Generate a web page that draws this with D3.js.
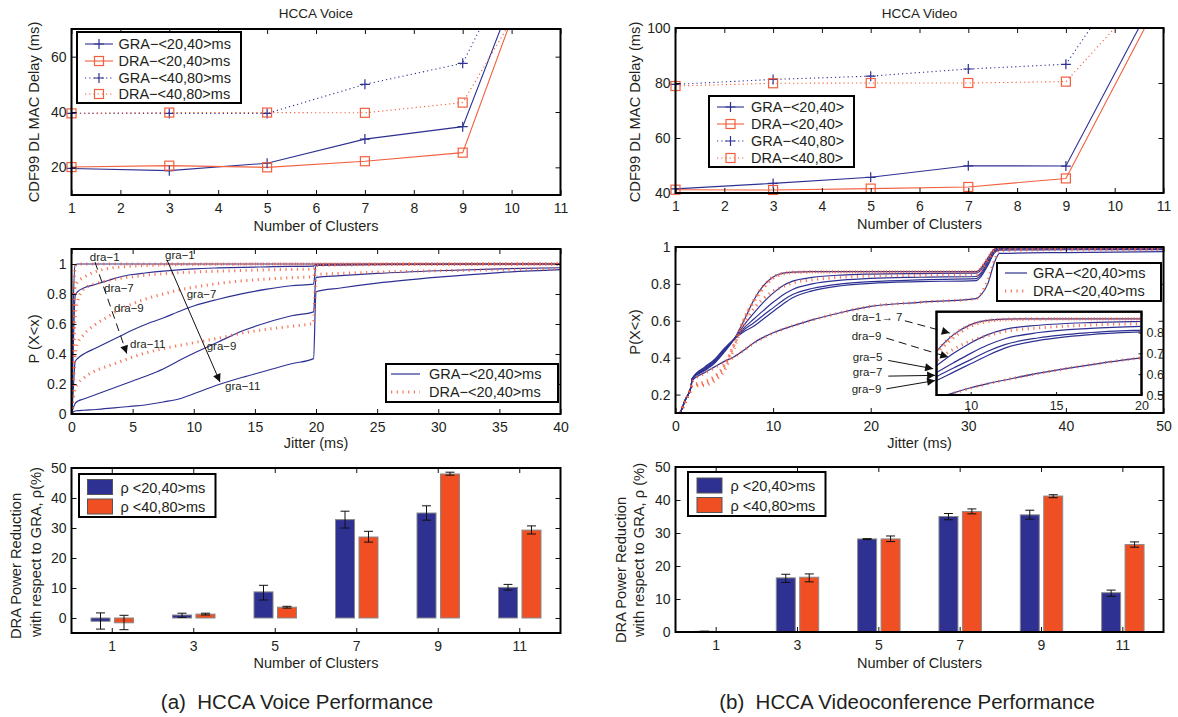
<!DOCTYPE html>
<html>
<head>
<meta charset="utf-8">
<script src="https://cdn.jsdelivr.net/npm/d3@7"></script>
<style>
  body { margin: 0; background: #fff; }
  svg { font-family: "Liberation Sans", Arial, Helvetica, sans-serif; }
</style>
</head>
<body>
<svg id="fig" width="1178" height="717"></svg>
<script>
// ---------- data ----------
const clusters = [1, 3, 5, 7, 9, 11];

// CDF99 DL MAC delay (ms), HCCA voice
const voiceGra2040 = [19.6, 18.8, 21.5, 30.2, 34.7, 126];
const voiceDra2040 = [20.1, 20.6, 20.0, 22.2, 25.3, 122];
const voiceGra4080 = [39.5, 39.5, 39.5, 50.0, 57.6, 128];
const voiceDra4080 = [39.5, 39.8, 39.8, 39.7, 43.4, 103];

// CDF99 DL MAC delay (ms), HCCA video
const videoGra2040 = [41.5, 43.5, 45.7, 49.9, 49.8, 117];
const videoDra2040 = [41.2, 41.1, 41.6, 42.2, 45.3, 113];
const videoGra4080 = [79.5, 81.3, 82.5, 85.1, 86.8, 139];
const videoDra4080 = [78.9, 79.9, 80.0, 80.0, 80.5, 119.5];

// jitter CDF, voice
const voiceJitter = [0, 0.1, 0.3, 0.5, 1, 2, 3, 4, 5, 6, 7.5, 9, 10, 12, 14, 16, 18, 19.8, 20, 22, 25, 30, 35, 40];
const voiceCdfGra1 = [0, 0.55, 0.995, 1, 1, 1, 1, 1, 1, 1, 1, 1, 1, 1, 1, 1, 1, 1, 1, 1, 1, 1, 1, 1];
const voiceCdfGra5 = [0, 0.3, 0.79, 0.815, 0.84, 0.865, 0.89, 0.915, 0.93, 0.94, 0.953, 0.963, 0.968, 0.974, 0.978, 0.981, 0.984, 0.986, 0.997, 0.998, 0.999, 1, 1, 1];
const voiceCdfGra7 = [0, 0.1, 0.35, 0.37, 0.4, 0.44, 0.48, 0.52, 0.56, 0.595, 0.64, 0.69, 0.72, 0.765, 0.803, 0.832, 0.855, 0.866, 0.99, 0.993, 0.996, 0.998, 1, 1];
const voiceCdfGra9 = [0, 0.03, 0.07, 0.085, 0.1, 0.13, 0.16, 0.19, 0.22, 0.25, 0.3, 0.365, 0.405, 0.48, 0.555, 0.61, 0.655, 0.681, 0.911, 0.922, 0.937, 0.955, 0.968, 0.975];
const voiceCdfGra11 = [0, 0.01, 0.02, 0.022, 0.025, 0.03, 0.037, 0.045, 0.052, 0.06, 0.08, 0.105, 0.135, 0.195, 0.245, 0.29, 0.335, 0.369, 0.815, 0.84, 0.872, 0.912, 0.943, 0.962];
const voiceCdfDra1 = [0, 0.5, 0.98, 1, 1, 1, 1, 1, 1, 1, 1, 1, 1, 1, 1, 1, 1, 1, 1, 1, 1, 1, 1, 1];
const voiceCdfDra5 = [0, 0.4, 0.85, 0.88, 0.91, 0.95, 0.97, 0.98, 0.986, 0.99, 0.994, 0.996, 0.997, 0.998, 0.999, 1, 1, 1, 1, 1, 1, 1, 1, 1];
const voiceCdfDra7 = [0, 0.2, 0.65, 0.75, 0.83, 0.87, 0.89, 0.905, 0.915, 0.925, 0.935, 0.943, 0.947, 0.952, 0.957, 0.961, 0.964, 0.966, 0.995, 0.997, 0.999, 1, 1, 1];
const voiceCdfDra9 = [0, 0.1, 0.4, 0.47, 0.53, 0.6, 0.65, 0.7, 0.735, 0.765, 0.8, 0.83, 0.845, 0.87, 0.888, 0.9, 0.909, 0.915, 0.99, 0.993, 0.996, 0.998, 1, 1];
const voiceCdfDra11 = [0, 0.08, 0.17, 0.2, 0.24, 0.29, 0.32, 0.35, 0.38, 0.405, 0.435, 0.46, 0.475, 0.505, 0.54, 0.565, 0.585, 0.605, 0.93, 0.937, 0.946, 0.955, 0.962, 0.968];

// jitter CDF, video
const videoJitter = [0.5, 1, 1.6, 1.7, 3, 4, 5, 6, 7, 8, 9, 10, 11, 12, 14, 17, 20, 25, 30.8, 31.3, 32, 32.7, 33.2, 40, 50];
const videoCdfGra1 = [0.1, 0.17, 0.245, 0.285, 0.33, 0.37, 0.43, 0.5, 0.6, 0.71, 0.79, 0.838, 0.858, 0.864, 0.866, 0.866, 0.866, 0.866, 0.866, 0.885, 0.94, 0.99, 1, 1, 1];
const videoCdfGra3 = [0.1, 0.17, 0.245, 0.285, 0.335, 0.375, 0.435, 0.5, 0.575, 0.64, 0.7, 0.75, 0.79, 0.815, 0.835, 0.848, 0.853, 0.856, 0.858, 0.875, 0.93, 0.985, 0.998, 1, 1];
const videoCdfGra5 = [0.1, 0.17, 0.245, 0.285, 0.34, 0.38, 0.44, 0.5, 0.56, 0.608, 0.655, 0.7, 0.74, 0.77, 0.8, 0.82, 0.83, 0.836, 0.84, 0.86, 0.92, 0.98, 0.993, 0.994, 0.995];
const videoCdfGra7 = [0.1, 0.17, 0.245, 0.285, 0.345, 0.385, 0.445, 0.5, 0.55, 0.588, 0.63, 0.67, 0.71, 0.742, 0.775, 0.8, 0.812, 0.822, 0.828, 0.85, 0.91, 0.975, 0.988, 0.99, 0.991];
const videoCdfGra9 = [0.1, 0.17, 0.245, 0.285, 0.35, 0.39, 0.45, 0.5, 0.54, 0.57, 0.61, 0.65, 0.69, 0.725, 0.762, 0.79, 0.803, 0.812, 0.818, 0.84, 0.9, 0.97, 0.983, 0.985, 0.986];
const videoCdfGra11 = [0.1, 0.17, 0.24, 0.275, 0.32, 0.35, 0.38, 0.405, 0.44, 0.48, 0.51, 0.535, 0.555, 0.572, 0.605, 0.645, 0.678, 0.7, 0.72, 0.74, 0.8, 0.92, 0.965, 0.97, 0.975];
const videoCdfDra1 = [0.1, 0.16, 0.235, 0.245, 0.25, 0.275, 0.33, 0.45, 0.6, 0.71, 0.79, 0.838, 0.858, 0.864, 0.866, 0.866, 0.866, 0.866, 0.866, 0.885, 0.94, 0.99, 1, 1, 1];
const videoCdfDra7 = [0.1, 0.16, 0.235, 0.25, 0.26, 0.29, 0.35, 0.47, 0.61, 0.7, 0.775, 0.83, 0.853, 0.861, 0.864, 0.865, 0.865, 0.866, 0.866, 0.885, 0.94, 0.99, 1, 0.998, 0.998];
const videoCdfDra9 = [0.1, 0.16, 0.235, 0.25, 0.27, 0.3, 0.36, 0.47, 0.58, 0.665, 0.72, 0.76, 0.785, 0.805, 0.822, 0.836, 0.842, 0.846, 0.848, 0.868, 0.925, 0.98, 0.99, 0.99, 0.99];
const videoCdfDra11 = [0.1, 0.165, 0.235, 0.27, 0.315, 0.345, 0.377, 0.403, 0.44, 0.478, 0.508, 0.533, 0.554, 0.572, 0.604, 0.645, 0.678, 0.7, 0.72, 0.745, 0.82, 0.93, 0.98, 0.985, 0.985];

// DRA power reduction w.r.t. GRA (%), with error bar limits
const voiceRho2040 = [-1.1, 1.0, 8.7, 32.8, 35.0, 10.2];
const voiceRho2040Lo = [-3.7, 0.2, 6.0, 30.0, 32.6, 9.3];
const voiceRho2040Hi = [1.7, 1.6, 10.9, 35.6, 37.4, 11.2];
const voiceRho4080 = [-1.6, 1.3, 3.6, 27.0, 48.0, 29.3];
const voiceRho4080Lo = [-3.9, 1.0, 3.3, 25.3, 47.6, 28.0];
const voiceRho4080Hi = [0.9, 1.6, 3.9, 28.9, 48.6, 30.7];
const videoRho2040 = [0.2, 16.4, 28.2, 35.0, 35.5, 11.9];
const videoRho2040Lo = [0.15, 15.0, 28.0, 34.0, 34.2, 10.8];
const videoRho2040Hi = [0.25, 17.5, 28.3, 35.9, 36.9, 12.7];
const videoRho4080 = [0.05, 16.6, 28.2, 36.5, 41.2, 26.5];
const videoRho4080Lo = [0.0, 15.2, 27.4, 35.8, 40.7, 25.7];
const videoRho4080Hi = [0.1, 17.6, 29.1, 37.3, 41.6, 27.3];

const delayTicksVoice = [20, 40, 60];
const delayTicksVideo = [40, 60, 80, 100];
const clusterTicks = [1, 2, 3, 4, 5, 6, 7, 8, 9, 10, 11];
const cdfTicksVoice = [0, 0.2, 0.4, 0.6, 0.8, 1];
const cdfTicksVideo = [0.2, 0.4, 0.6, 0.8, 1];
const jitterTicksVoice = [0, 5, 10, 15, 20, 25, 30, 35, 40];
const jitterTicksVideo = [0, 10, 20, 30, 40, 50];
const rhoTicks = [0, 10, 20, 30, 40, 50];
const insetXTicks = [10, 15, 20];
const insetYTicks = [0.5, 0.6, 0.7, 0.8];

// ---------- setup ----------
const svg = d3.select('#fig');
const BLUE = '#2e3192';
const RED = '#f2603f';
const BAR_RED = '#f04e23';
const TXT = '#231f20';
const fmt = d3.format('~g');
const defs = svg.append('defs');

defs.append('marker').attr('id', 'head').attr('viewBox', '0 0 10 10')
  .attr('refX', 10).attr('refY', 5).attr('markerWidth', 10).attr('markerHeight', 8)
  .attr('markerUnits', 'userSpaceOnUse').attr('orient', 'auto')
  .append('path').attr('d', 'M0,0L10,5L0,10z').attr('fill', '#111');

let clipCount = 0;
function clipFor(box) {
  const id = 'clip' + clipCount++;
  defs.append('clipPath').attr('id', id).append('rect')
    .attr('x', box[0]).attr('y', box[1]).attr('width', box[2] - box[0]).attr('height', box[3] - box[1]);
  return `url(#${id})`;
}

function styleAxis(sel, size) {
  sel.select('.domain').remove();
  sel.selectAll('.tick line').attr('stroke', '#111').attr('stroke-width', 1);
  sel.selectAll('.tick text').attr('fill', TXT).style('font-size', size + 'px');
}

function frame(g, box, x, y, xTicks, yTicks) {
  const [x0, y0, x1, y1] = box;
  const ax = (axis, tv) => (tv ? axis.tickValues(tv) : axis).tickSizeInner(-5).tickSizeOuter(0);
  const lab = (axis) => (x.bandwidth ? axis : axis.tickFormat(fmt));
  g.append('g').attr('transform', `translate(0,${y1})`)
    .call(lab(ax(d3.axisBottom(x), xTicks)).tickPadding(8)).call(styleAxis, 14);
  g.append('g').attr('transform', `translate(0,${y0})`)
    .call(ax(d3.axisTop(x), xTicks).tickFormat(() => '')).call(styleAxis, 14);
  g.append('g').attr('transform', `translate(${x0},0)`)
    .call(ax(d3.axisLeft(y), yTicks).tickFormat(fmt).tickPadding(5)).call(styleAxis, 14);
  g.append('g').attr('transform', `translate(${x1},0)`)
    .call(ax(d3.axisRight(y), yTicks).tickFormat(() => '')).call(styleAxis, 14);
  g.append('rect').attr('x', x0).attr('y', y0).attr('width', x1 - x0).attr('height', y1 - y0)
    .attr('fill', 'none').attr('stroke', '#000').attr('stroke-width', 2);
}

function text(g, x, y, str, size, anchor) {
  return g.append('text').attr('x', x).attr('y', y).attr('text-anchor', anchor || 'start')
    .attr('fill', TXT).style('font-size', size + 'px').text(str);
}

function yLabel(cx, cy, str) {
  svg.append('text').attr('transform', `translate(${cx},${cy}) rotate(-90)`)
    .attr('text-anchor', 'middle').attr('dy', '0.35em').attr('fill', TXT)
    .style('font-size', '14.7px').text(str);
}

function drawMarker(g, kind, cx, cy, color) {
  if (kind === 'plus') {
    g.append('path').attr('d', `M${cx - 5},${cy}H${cx + 5}M${cx},${cy - 5}V${cy + 5}`)
      .attr('stroke', color).attr('stroke-width', 1.2).attr('fill', 'none');
  } else {
    g.append('rect').attr('x', cx - 4.5).attr('y', cy - 4.5).attr('width', 9).attr('height', 9)
      .attr('stroke', color).attr('stroke-width', 1.2).attr('fill', 'none');
  }
}

function box(g, x0, y0, x1, y1) {
  g.append('rect').attr('x', x0).attr('y', y0).attr('width', x1 - x0).attr('height', y1 - y0)
    .attr('fill', '#fff').attr('stroke', '#000').attr('stroke-width', 2);
}

// ---------- delay panels ----------
function delayPanel(b, yDom, yTicks, series, title, leg) {
  const x = d3.scaleLinear().domain([1, 11]).range([b[0], b[2]]);
  const y = d3.scaleLinear().domain(yDom).range([b[3], b[1]]);
  const g = svg.append('g');
  const plot = g.append('g').attr('clip-path', clipFor(b));
  const line = d3.line().x((d, i) => x(clusters[i])).y(d => y(d));
  series.forEach(s => {
    plot.append('path').attr('d', line(s.values)).attr('fill', 'none')
      .attr('stroke', s.color).attr('stroke-width', 1.1)
      .attr('stroke-dasharray', s.dash ? '1.2,3' : null);
  });
  series.forEach(s => {
    s.values.forEach((v, i) => {
      if (v <= yDom[1]) drawMarker(g, s.marker, x(clusters[i]), y(v), s.color);
    });
  });
  frame(g, b, x, y, clusterTicks, yTicks);
  text(g, (b[0] + b[2]) / 2, 18, title, 13.5, 'middle');
  text(g, (b[0] + b[2]) / 2, b[3] + 36, 'Number of Clusters', 14.5, 'middle');
  // legend
  box(g, leg.x0, leg.y0, leg.x1, leg.y1);
  series.forEach((s, i) => {
    const cy = leg.rows[i];
    g.append('line').attr('x1', leg.lx0).attr('x2', leg.lx1).attr('y1', cy).attr('y2', cy)
      .attr('stroke', s.color).attr('stroke-width', 1.1).attr('stroke-dasharray', s.dash ? '1.2,3' : null);
    drawMarker(g, s.marker, (leg.lx0 + leg.lx1) / 2, cy, s.color);
    text(g, leg.tx, cy + 5, s.label, 14.5);
  });
}

delayPanel([71.5, 29, 560.5, 195], [10, 70], delayTicksVoice, [
  { label: 'GRA−<20,40>ms', values: voiceGra2040, color: BLUE, marker: 'plus' },
  { label: 'DRA−<20,40>ms', values: voiceDra2040, color: RED, marker: 'square' },
  { label: 'GRA−<40,80>ms', values: voiceGra4080, color: BLUE, marker: 'plus', dash: true },
  { label: 'DRA−<40,80>ms', values: voiceDra4080, color: RED, marker: 'square', dash: true },
], 'HCCA Voice', { x0: 77, y0: 32, x1: 241, y1: 103, rows: [44, 61, 78, 94], lx0: 85, lx1: 113, tx: 118.5 });

delayPanel([675.5, 28, 1163.5, 193], [40, 100], delayTicksVideo, [
  { label: 'GRA−<20,40>', values: videoGra2040, color: BLUE, marker: 'plus' },
  { label: 'DRA−<20,40>', values: videoDra2040, color: RED, marker: 'square' },
  { label: 'GRA−<40,80>', values: videoGra4080, color: BLUE, marker: 'plus', dash: true },
  { label: 'DRA−<40,80>', values: videoDra4080, color: RED, marker: 'square', dash: true },
], 'HCCA Video', { x0: 709, y0: 96, x1: 854, y1: 167, rows: [107, 124, 141, 158], lx0: 717, lx1: 744, tx: 751 });

yLabel(34, 112, 'CDF99 DL MAC Delay (ms)');
yLabel(635, 112, 'CDF99 DL MAC Delay (ms)');

// ---------- jitter CDF panels ----------
function drawCurves(plot, xs, x, y, gra, dra) {
  const line = d3.line().x((d, i) => x(xs[i])).y(d => y(d)).curve(d3.curveMonotoneX);
  gra.forEach(c => plot.append('path').attr('d', line(c)).attr('fill', 'none')
    .attr('stroke', BLUE).attr('stroke-width', 1.2));
  dra.forEach(c => plot.append('path').attr('d', line(c)).attr('fill', 'none')
    .attr('stroke', RED).attr('stroke-width', 3).attr('stroke-opacity', 0.85)
    .attr('stroke-dasharray', '1.2,4.5'));
}

function notes(g, x, y, list, arrows, size) {
  list.forEach(n => text(g, x(n.x), y(n.y), n.text, size));
  arrows.forEach(a => g.append('line')
    .attr('x1', x(a.from[0])).attr('y1', y(a.from[1])).attr('x2', x(a.to[0])).attr('y2', y(a.to[1]))
    .attr('stroke', '#111').attr('stroke-width', 1).attr('stroke-dasharray', a.dash ? '8,5' : null)
    .attr('marker-end', 'url(#head)'));
}

function cdfLegend(g, L) {
  box(g, L.x0, L.y0, L.x1, L.y1);
  g.append('line').attr('x1', L.lx0).attr('x2', L.lx1).attr('y1', L.rows[0]).attr('y2', L.rows[0])
    .attr('stroke', BLUE).attr('stroke-width', 1.2);
  g.append('line').attr('x1', L.lx0).attr('x2', L.lx1).attr('y1', L.rows[1]).attr('y2', L.rows[1])
    .attr('stroke', RED).attr('stroke-width', 3).attr('stroke-opacity', 0.85).attr('stroke-dasharray', '1.2,4.5');
  text(g, L.tx, L.rows[0] + 5, 'GRA−<20,40>ms', 14.5);
  text(g, L.tx, L.rows[1] + 5, 'DRA−<20,40>ms', 14.5);
}

// voice jitter
(() => {
  const b = [71.5, 249, 560.5, 414];
  const x = d3.scaleLinear().domain([0, 40]).range([b[0], b[2]]);
  const y = d3.scaleLinear().domain([0, 1.1]).range([b[3], b[1]]);
  const g = svg.append('g');
  const plot = g.append('g').attr('clip-path', clipFor(b));
  drawCurves(plot, voiceJitter, x, y,
    [voiceCdfGra1, voiceCdfGra5, voiceCdfGra7, voiceCdfGra9, voiceCdfGra11],
    [voiceCdfDra1, voiceCdfDra5, voiceCdfDra7, voiceCdfDra9, voiceCdfDra11]);
  frame(g, b, x, y, jitterTicksVoice, cdfTicksVoice);
  notes(g, x, y, [
    { text: 'dra−1', x: 1.5, y: 1.023 }, { text: 'gra−1', x: 7.65, y: 1.033 },
    { text: 'dra−7', x: 2.66, y: 0.815 }, { text: 'dra−9', x: 3.48, y: 0.681 },
    { text: 'dra−11', x: 4.79, y: 0.438 }, { text: 'gra−7', x: 9.42, y: 0.773 },
    { text: 'gra−9', x: 11.06, y: 0.425 }, { text: 'gra−11', x: 12.56, y: 0.157 },
  ], [
    { from: [7.81, 1.027], to: [12.15, 0.213] },
    { from: [1.92, 1.013], to: [4.52, 0.403], dash: true },
  ], 11.5);
  cdfLegend(g, { x0: 386, y0: 364, x1: 558, y1: 402, rows: [374, 392], lx0: 391, lx1: 420, tx: 429 });
  text(g, (b[0] + b[2]) / 2, 448, 'Jitter (ms)', 14.5, 'middle');
  yLabel(34, 339, 'P (X<x)');
})();

// video jitter
(() => {
  const b = [675.5, 247, 1163.5, 413];
  const x = d3.scaleLinear().domain([0, 50]).range([b[0], b[2]]);
  const y = d3.scaleLinear().domain([0.1, 1]).range([b[3], b[1]]);
  const g = svg.append('g');
  const plot = g.append('g').attr('clip-path', clipFor(b));
  const gra = [videoCdfGra1, videoCdfGra3, videoCdfGra5, videoCdfGra7, videoCdfGra9, videoCdfGra11];
  const dra = [videoCdfDra1, videoCdfDra7, videoCdfDra9, videoCdfDra11];
  drawCurves(plot, videoJitter, x, y, gra, dra);
  frame(g, b, x, y, jitterTicksVideo, cdfTicksVideo);
  cdfLegend(g, { x0: 997, y0: 263, x1: 1161, y1: 301, rows: [273, 291], lx0: 1005, lx1: 1027, tx: 1033 });

  // inset: zoom of 8-20 ms
  const ib = [936.5, 311.7, 1141.5, 395];
  const ix = d3.scaleLinear().domain([8, 20]).range([ib[0], ib[2]]);
  const iy = d3.scaleLinear().domain([0.5, 0.9]).range([ib[3], ib[1]]);
  box(g, ib[0], ib[1], ib[2], ib[3]);
  const iplot = g.append('g').attr('clip-path', clipFor(ib));
  drawCurves(iplot, videoJitter, ix, iy, gra, dra);
  g.append('g').attr('transform', `translate(0,${ib[3]})`)
    .call(d3.axisBottom(ix).tickValues(insetXTicks).tickSizeInner(-3).tickSizeOuter(0).tickPadding(6).tickFormat(fmt))
    .call(styleAxis, 12.5);
  g.append('g').attr('transform', `translate(${ib[2]},0)`)
    .call(d3.axisRight(iy).tickValues(insetYTicks).tickSizeInner(-3).tickSizeOuter(0).tickPadding(5).tickFormat(fmt))
    .call(styleAxis, 12.5);
  g.append('rect').attr('x', ib[0]).attr('y', ib[1]).attr('width', ib[2] - ib[0]).attr('height', ib[3] - ib[1])
    .attr('fill', 'none').attr('stroke', '#000').attr('stroke-width', 2);

  notes(g, x, y, [
    { text: 'dra−1→ 7', x: 18.05, y: 0.601 }, { text: 'dra−9', x: 18.05, y: 0.494 },
    { text: 'gra−5', x: 18.16, y: 0.381 }, { text: 'gra−7', x: 18.16, y: 0.298 },
    { text: 'gra−9', x: 18.05, y: 0.207 },
  ], [
    { from: [23.5, 0.6], to: [28.1, 0.534], dash: true },
    { from: [21.6, 0.506], to: [27.95, 0.403], dash: true },
    { from: [21.8, 0.385], to: [26.4, 0.34] },
    { from: [21.8, 0.3], to: [26.6, 0.304] },
    { from: [21.6, 0.231], to: [26.6, 0.276] },
  ], 11.5);
  text(g, (b[0] + b[2]) / 2, 448, 'Jitter (ms)', 14.5, 'middle');
  yLabel(635, 332, 'P(X<x)');
})();

// ---------- power reduction bars ----------
function barPanel(b, yDom, s1, s2, leg, caption, labelX, labelY) {
  const x = d3.scaleBand().domain(clusters).range([b[0], b[2]]).padding(0);
  const xi = d3.scaleBand().domain([0, 1]).range([0, x.bandwidth()]).paddingInner(0.19).paddingOuter(0.83);
  const y = d3.scaleLinear().domain(yDom).range([b[3], b[1]]);
  const g = svg.append('g');
  const plot = g.append('g').attr('clip-path', clipFor(b));
  [s1, s2].forEach((s, k) => {
    s.values.forEach((v, i) => {
      const bx = x(clusters[i]) + xi(k);
      plot.append('rect').attr('x', bx).attr('width', xi.bandwidth())
        .attr('y', y(Math.max(0, v))).attr('height', Math.abs(y(v) - y(0)))
        .attr('fill', s.color).attr('stroke', '#8a8a8a').attr('stroke-width', 1);
      const cx = bx + xi.bandwidth() / 2;
      const lo = y(s.lo[i]), hi = y(s.hi[i]);
      plot.append('path').attr('d', `M${cx},${lo}V${hi}M${cx - 4.5},${lo}H${cx + 4.5}M${cx - 4.5},${hi}H${cx + 4.5}`)
        .attr('stroke', '#111').attr('stroke-width', 1).attr('fill', 'none');
    });
  });
  frame(g, b, x, y, null, rhoTicks);
  box(g, leg.x0, leg.y0, leg.x1, leg.y1);
  [s1, s2].forEach((s, k) => {
    g.append('rect').attr('x', leg.sx).attr('y', leg.rows[k] - 7.5).attr('width', 25).attr('height', 15)
      .attr('fill', s.color).attr('stroke', '#555').attr('stroke-width', 1);
    text(g, leg.tx, leg.rows[k] + 5.5, s.label, 14.5);
  });
  text(g, (b[0] + b[2]) / 2, 668, 'Number of Clusters', 14.5, 'middle');
  text(svg, caption.x, 709, caption.text, 20.5, 'middle').style('white-space', 'pre');
  yLabel(labelX[0], labelY[0], 'DRA Power Reduction');
  yLabel(labelX[1], labelY[1], labelX[2]);
}

barPanel([71.5, 468, 560.5, 633], [-5, 50],
  { label: 'ρ <20,40>ms', values: voiceRho2040, lo: voiceRho2040Lo, hi: voiceRho2040Hi, color: BLUE },
  { label: 'ρ <40,80>ms', values: voiceRho4080, lo: voiceRho4080Lo, hi: voiceRho4080Hi, color: BAR_RED },
  { x0: 79, y0: 474, x1: 215.5, y1: 517, rows: [487, 506.5], sx: 87.5, tx: 120.5 },
  { x: 297, text: '(a)  HCCA Voice Performance' },
  [16, 36, 'with respect to GRA, ρ(%)'], [566, 552]);

barPanel([675.5, 467, 1163.5, 632], [0, 50],
  { label: 'ρ <20,40>ms', values: videoRho2040, lo: videoRho2040Lo, hi: videoRho2040Hi, color: BLUE },
  { label: 'ρ <40,80>ms', values: videoRho4080, lo: videoRho4080Lo, hi: videoRho4080Hi, color: BAR_RED },
  { x0: 688, y0: 472, x1: 825.5, y1: 516, rows: [485.5, 505], sx: 697, tx: 730.5 },
  { x: 907, text: '(b)  HCCA Videoconference Performance' },
  [621, 639, 'with respect to GRA, ρ (%)'], [570, 550]);
</script>
</body>
</html>
